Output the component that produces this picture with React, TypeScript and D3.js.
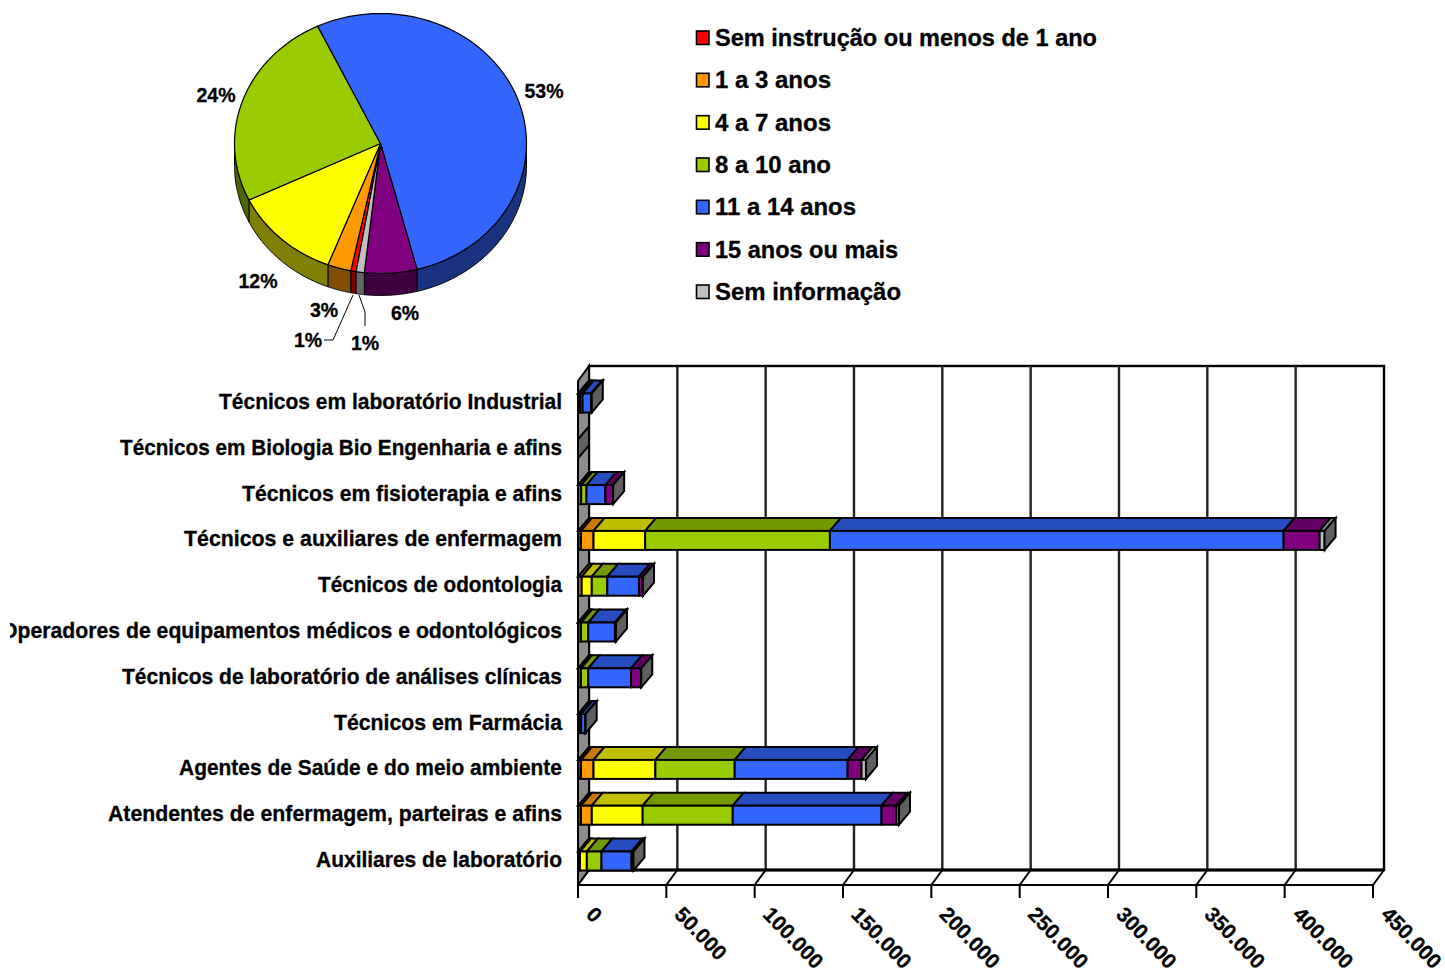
import React from "react";
import * as d3 from "d3";

const categories = [
  "Técnicos em laboratório Industrial",
  "Técnicos em Biologia Bio Engenharia e afins",
  "Técnicos em fisioterapia e afins",
  "Técnicos e auxiliares de enfermagem",
  "Técnicos de odontologia",
  "Operadores de equipamentos médicos e odontológicos",
  "Técnicos de laboratório de análises clínicas",
  "Técnicos em Farmácia",
  "Agentes de Saúde e do meio ambiente",
  "Atendentes de enfermagem, parteiras e afins",
  "Auxiliares de laboratório",
];
const seriesNames = [
  "Sem instrução ou menos de 1 ano",
  "1 a 3 anos",
  "4 a 7 anos",
  "8 a 10 ano",
  "11 a 14 anos",
  "15 anos ou mais",
  "Sem informação",
];
const semInstrucao = [200, 0, 100, 1700, 200, 100, 100, 100, 1700, 1700, 300];
const anos1a3 = [400, 0, 200, 7100, 1900, 300, 300, 200, 7100, 6100, 800];
const anos4a7 = [800, 0, 1500, 29200, 5700, 1300, 1300, 500, 35000, 28800, 3900];
const anos8a10 = [1200, 0, 3000, 104600, 8800, 4100, 4100, 1000, 44900, 51000, 8300];
const anos11a14 = [4800, 0, 10700, 256800, 17900, 15100, 24200, 2400, 63900, 84200, 17000];
const anos15mais = [300, 0, 4300, 20400, 2100, 500, 5700, 100, 7900, 8500, 700];
const semInformacao = [100, 0, 100, 2800, 200, 100, 100, 50, 2500, 1400, 400];
const seriesValues = [semInstrucao, anos1a3, anos4a7, anos8a10, anos11a14, anos15mais, semInformacao];
const xTicks = [0, 50000, 100000, 150000, 200000, 250000, 300000, 350000, 400000, 450000];

const pieShares = [0.6, 2.6, 12, 25.1, 53.1, 5.8, 0.9];
const pieLabels = ["1%", "3%", "12%", "24%", "53%", "6%", "1%"];

const frontColors = ["#FF0000", "#FF9900", "#FFFF00", "#99CC00", "#3366FF", "#800080", "#C0C0C0"];
const topColors = ["#BF0000", "#C87800", "#BFBF00", "#739900", "#264DBF", "#600060", "#909090"];
const sideColors = ["#800000", "#805000", "#808000", "#4D6600", "#1A3380", "#400040", "#666666"];

// rendered widths of the label texts
const categoryWidths = [343, 442, 320, 378, 244, 561, 440, 228, 383, 454, 246];
const legendWidths = [382, 116, 116, 116, 141, 183, 186];

const FONT = "'Liberation Sans', Arial, sans-serif";
const DX = 11;
const DY = 13;
const WDX = 11;
const WDY = 15;
const x = d3.scaleLinear().domain([0, 450000]).range([578, 1373]);
const yC = d3.scalePoint<string>().domain(categories).range([403, 861]);
const BAR_H = 19;
const plotTop = 366;
const plotBottom = 870;

const stackRows = categories.map((c, i) => {
  const o: Record<string, number | string> = { c };
  seriesNames.forEach((s, k) => (o[s] = seriesValues[k][i]));
  return o;
});
const stacked = d3.stack<any>().keys(seriesNames)(stackRows as any);

const poly = (p: [number, number][]) => d3.line()(p)! + "Z";

const cx = 380.5, cy = 143.5, rx = 146, ry = 130, depth = 22;
const slices = d3.pie<number>().sort(null).startAngle((189.6 * Math.PI) / 180).endAngle((549.6 * Math.PI) / 180)(pieShares);
const pt = (a: number, dy = 0): [number, number] => [cx + rx * Math.sin(a), cy - ry * Math.cos(a) + dy];
const arcPts = (a0: number, a1: number, dy = 0) => d3.range(0, 61).map((i) => pt(a0 + ((a1 - a0) * i) / 60, dy));
const sidePath = (a0: number, a1: number, from: number, to: number) => {
  const lo = Math.max(a0, from), hi = Math.min(a1, to);
  if (hi <= lo) return null;
  return poly([...arcPts(lo, hi), ...arcPts(hi, lo, depth)]);
};
// the visible lower half of the rim, on either turn of the circle
const sideFor = (s: any) =>
  sidePath(s.startAngle, s.endAngle, Math.PI / 2, (3 * Math.PI) / 2) ||
  sidePath(s.startAngle, s.endAngle, (5 * Math.PI) / 2, (7 * Math.PI) / 2);

const pieLabelPos: [number, number][] = [
  [308, 347], [324, 317], [258, 288], [216, 102], [544, 98], [405, 320], [365, 350],
];

const legendY = d3.scalePoint<string>().domain(seriesNames).range([38, 292]);

export default function App() {
  return (
    <svg width={1445} height={975} style={{ position: "absolute", left: 0, top: 0, display: "block", background: "#fff" }} fontFamily={FONT} fontWeight="bold" fill="#000">
      <defs>
        <clipPath id="lab"><rect x={10} y={360} width={560} height={540} /></clipPath>
      </defs>

      {/* pie sides */}
      {slices.map((s, i) => {
        const d = sideFor(s);
        return d ? <path key={i} d={d} fill={sideColors[i]} stroke="#000" strokeWidth={1} /> : null;
      })}
      {/* pie tops */}
      {slices.map((s, i) => (
        <path key={i} d={poly([[cx, cy], ...arcPts(s.startAngle, s.endAngle)])} fill={frontColors[i]} stroke="#000" strokeWidth={1.2} strokeLinejoin="round" />
      ))}
      <path d={d3.line()([[353, 295], [333, 340], [324, 340]])!} fill="none" stroke="#000" strokeWidth={1} />
      <path d={d3.line()([[359, 295], [365, 312], [365, 326]])!} fill="none" stroke="#000" strokeWidth={1} />
      <g stroke="#000" strokeWidth={0.3}>
        {pieLabels.map((t, i) => (
          <text key={i} x={pieLabelPos[i][0]} y={pieLabelPos[i][1]} textAnchor="middle" fontSize={19.5}>{t}</text>
        ))}
      </g>

      {/* legend */}
      {seriesNames.map((s, i) => (
        <g key={s}>
          <rect x={696.5} y={legendY(s)! - 7} width={12.5} height={13.5} fill={frontColors[i]} stroke="#000" strokeWidth={1.6} />
          <text x={715} y={legendY(s)! + 8} fontSize={23.4} textLength={legendWidths[i]} lengthAdjust="spacingAndGlyphs" stroke="#000" strokeWidth={0.3}>{s}</text>
        </g>
      ))}

      {/* back wall, floor, left wall */}
      <rect x={589} y={plotTop} width={795} height={plotBottom - plotTop} fill="#fff" stroke="#000" strokeWidth={2.4} />
      <path d={poly([[x(0), plotTop + WDY], [x(0) + WDX, plotTop], [x(0) + WDX, plotBottom], [x(0), plotBottom + WDY]])} fill="#8C8C8C" stroke="#000" strokeWidth={2} />
      {xTicks.map((t) => (
        <g key={t} stroke="#000" strokeWidth={2}>
          {t > 0 && t < 450000 && <line x1={x(t) + WDX} x2={x(t) + WDX} y1={plotTop} y2={plotBottom} stroke="#222" strokeWidth={2.4} />}
          <line x1={x(t)} x2={x(t) + WDX} y1={plotBottom + WDY} y2={plotBottom} />
          <line x1={x(t)} x2={x(t)} y1={plotBottom + WDY} y2={plotBottom + WDY + 13} />
        </g>
      ))}
      <line x1={x(0) + WDX} x2={1384} y1={plotBottom} y2={plotBottom} stroke="#000" strokeWidth={3} />
      <line x1={x(0)} x2={x(450000)} y1={plotBottom + WDY} y2={plotBottom + WDY} stroke="#000" strokeWidth={2} />

      {/* bars */}
      {categories.map((c, i) => {
        const yc = yC(c)!;
        const y0 = yc - BAR_H / 2;
        const y1 = yc + BAR_H / 2;
        const end = x(stacked[stacked.length - 1][i][1]);
        return (
          <g key={c} stroke="#000" strokeWidth={2} strokeLinejoin="miter">
            {stacked.map((layer, k) => {
              const a = x(layer[i][0]);
              const b = x(layer[i][1]);
              if (b <= a) return null;
              return (
                <g key={k}>
                  <path d={poly([[a, y0], [a + DX, y0 - DY], [b + DX, y0 - DY], [b, y0]])} fill={topColors[k]} />
                  <rect x={a} y={y0} width={b - a} height={BAR_H} fill={frontColors[k]} />
                </g>
              );
            })}
            <path d={poly([[end, y0], [end + DX, y0 - DY], [end + DX, y1 - DY], [end, y1]])} fill="#606060" />
          </g>
        );
      })}

      {/* category labels */}
      <g clipPath="url(#lab)" stroke="#000" strokeWidth={0.3}>
        {categories.map((c, i) => (
          <text key={c} x={562} y={yC(c)! + 6} textAnchor="end" fontSize={21.6} textLength={categoryWidths[i]} lengthAdjust="spacingAndGlyphs">{c}</text>
        ))}
      </g>

      {/* x tick labels */}
      <g stroke="#000" strokeWidth={0.3}>
        {xTicks.map((t) => (
          <text key={t} transform={`translate(${x(t) + 7},${915.5}) rotate(46)`} fontSize={21}>
            {d3.format(",")(t).replace(/,/g, ".")}
          </text>
        ))}
      </g>
    </svg>
  );
}
